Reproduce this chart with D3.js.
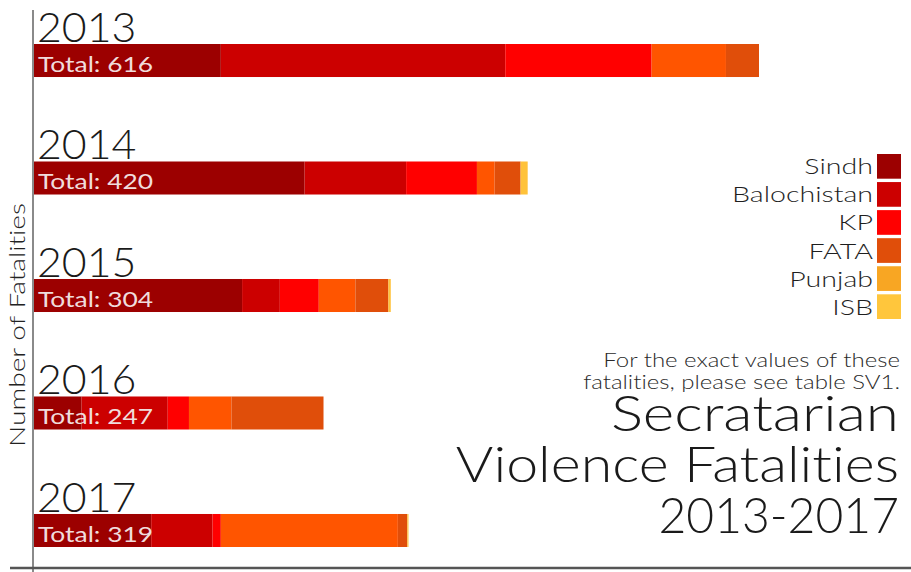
<!DOCTYPE html>
<html>
<head>
<meta charset="utf-8">
<script src="https://cdn.jsdelivr.net/npm/d3@7"></script>
<style>
  body { margin: 0; background: #fff; }
  text { font-family: "Lato", "DejaVu Sans", sans-serif; font-variant-ligatures: none; }
</style>
</head>
<body>
<div id="chart"></div>
<script>
var svgWidth = 911;
var svgHeight = 572;

// data
var years = ["2013", "2014", "2015", "2016", "2017"];
var totals = [616, 420, 304, 247, 319];
var sindh = [160, 231, 178, 42, 101];
var balochistan = [241, 86, 32, 73, 52];
var kp = [124, 60, 33, 18, 7];
var orangePart = [63, 15, 31, 36, 150];
var fata = [28, 22, 28, 78, 8];
var isb = [0, 6, 2, 0, 1];

var stackKeys = ["Sindh", "Balochistan", "KP", "Other", "FATA", "ISB"];
var barColors = ["#9c0000", "#cc0000", "#ff0000", "#ff5500", "#e04e0a", "#ffc23a"];

var legendLabels = ["Sindh", "Balochistan", "KP", "FATA", "Punjab", "ISB"];
var legendColors = ["#9c0000", "#cc0000", "#ff0000", "#e04e0a", "#f8a623", "#ffc63c"];

// the original font is much wider than Lato, so texts get stretched sideways
var wide = 1.28;

var svg = d3.select("#chart")
  .append("svg")
  .attr("width", svgWidth)
  .attr("height", svgHeight);

var rows = years.map((y, i) => ({
  year: y,
  total: totals[i],
  Sindh: sindh[i],
  Balochistan: balochistan[i],
  KP: kp[i],
  Other: orangePart[i],
  FATA: fata[i],
  ISB: isb[i]
}));

var series = d3.stack().keys(stackKeys)(rows);

var x = d3.scaleLinear()
  .domain([0, 616])
  .range([32, 759]);

var y = d3.scaleBand()
  .domain(years)
  .range([44, 547])
  .paddingInner(0.719)
  .paddingOuter(0);

var color = d3.scaleOrdinal().domain(stackKeys).range(barColors);

// stacked bars
svg.append("g")
  .selectAll("g")
  .data(series)
  .join("g")
  .attr("fill", d => color(d.key))
  .selectAll("rect")
  .data(d => d)
  .join("rect")
  .attr("x", d => x(d[0]))
  .attr("y", d => y(d.data.year))
  .attr("width", d => x(d[1]) - x(d[0]))
  .attr("height", y.bandwidth());

// year labels
svg.append("g")
  .selectAll("text")
  .data(rows)
  .join("text")
  .attr("transform", d => `translate(37, ${y(d.year) - 2}) scale(1.02, 1)`)
  .attr("font-size", 42)
  .attr("font-weight", 300)
  .attr("fill", "#1a1a1a")
  .text(d => d.year);

// totals inside bars
svg.append("g")
  .selectAll("text")
  .data(rows)
  .join("text")
  .attr("transform", d => `translate(38, ${y(d.year) + 28}) scale(1.2, 1)`)
  .attr("font-size", 22)
  .attr("fill", "#f0dcdc")
  .text(d => "Total: " + d.total);

// axes lines
svg.append("line")
  .attr("x1", 33).attr("x2", 33)
  .attr("y1", 10).attr("y2", 572)
  .attr("stroke", "#8a8a8a")
  .attr("stroke-width", 2);

svg.append("line")
  .attr("x1", 10).attr("x2", 911)
  .attr("y1", 568).attr("y2", 568)
  .attr("stroke", "#555")
  .attr("stroke-width", 2.5);

svg.append("text")
  .attr("transform", `translate(25, 325) rotate(-90) scale(${wide}, 1)`)
  .attr("text-anchor", "middle")
  .attr("font-size", 22)
  .attr("font-weight", 300)
  .attr("fill", "#222")
  .text("Number of Fatalities");

// legend
var legend = svg.append("g");
var swatchY = d3.scaleBand()
  .domain(legendLabels)
  .range([154, 319])
  .paddingInner(0.12);

legend.selectAll("rect")
  .data(legendLabels)
  .join("rect")
  .attr("x", 877)
  .attr("y", d => swatchY(d))
  .attr("width", 24)
  .attr("height", swatchY.bandwidth())
  .attr("fill", (d, i) => legendColors[i]);

legend.selectAll("text")
  .data(legendLabels)
  .join("text")
  .attr("transform", d => `translate(873, ${swatchY(d) + swatchY.bandwidth() / 2 + 8}) scale(1.3, 1)`)
  .attr("text-anchor", "end")
  .attr("font-size", 22)
  .attr("font-weight", 300)
  .attr("fill", "#1e1e1e")
  .text(d => d);

// note and title
var note = ["For the exact values of these", "fatalities, please see table SV1."];
svg.append("g")
  .selectAll("text")
  .data(note)
  .join("text")
  .attr("transform", (d, i) => `translate(900, ${367 + i * 22}) scale(1.2, 1)`)
  .attr("text-anchor", "end")
  .attr("font-size", 20)
  .attr("font-weight", 300)
  .attr("fill", "#2a2a2a")
  .text(d => d);

var title = ["Secratarian", "Violence Fatalities", "2013-2017"];
var titleStretch = [1.23, 1.17, 0.98];
svg.append("g")
  .selectAll("text")
  .data(title)
  .join("text")
  .attr("transform", (d, i) => `translate(899, ${431 + i * 51}) scale(${titleStretch[i]}, 1)`)
  .attr("text-anchor", "end")
  .attr("font-size", 49)
  .attr("font-weight", 300)
  .attr("fill", "#1a1a1a")
  .text(d => d);
</script>
</body>
</html>
